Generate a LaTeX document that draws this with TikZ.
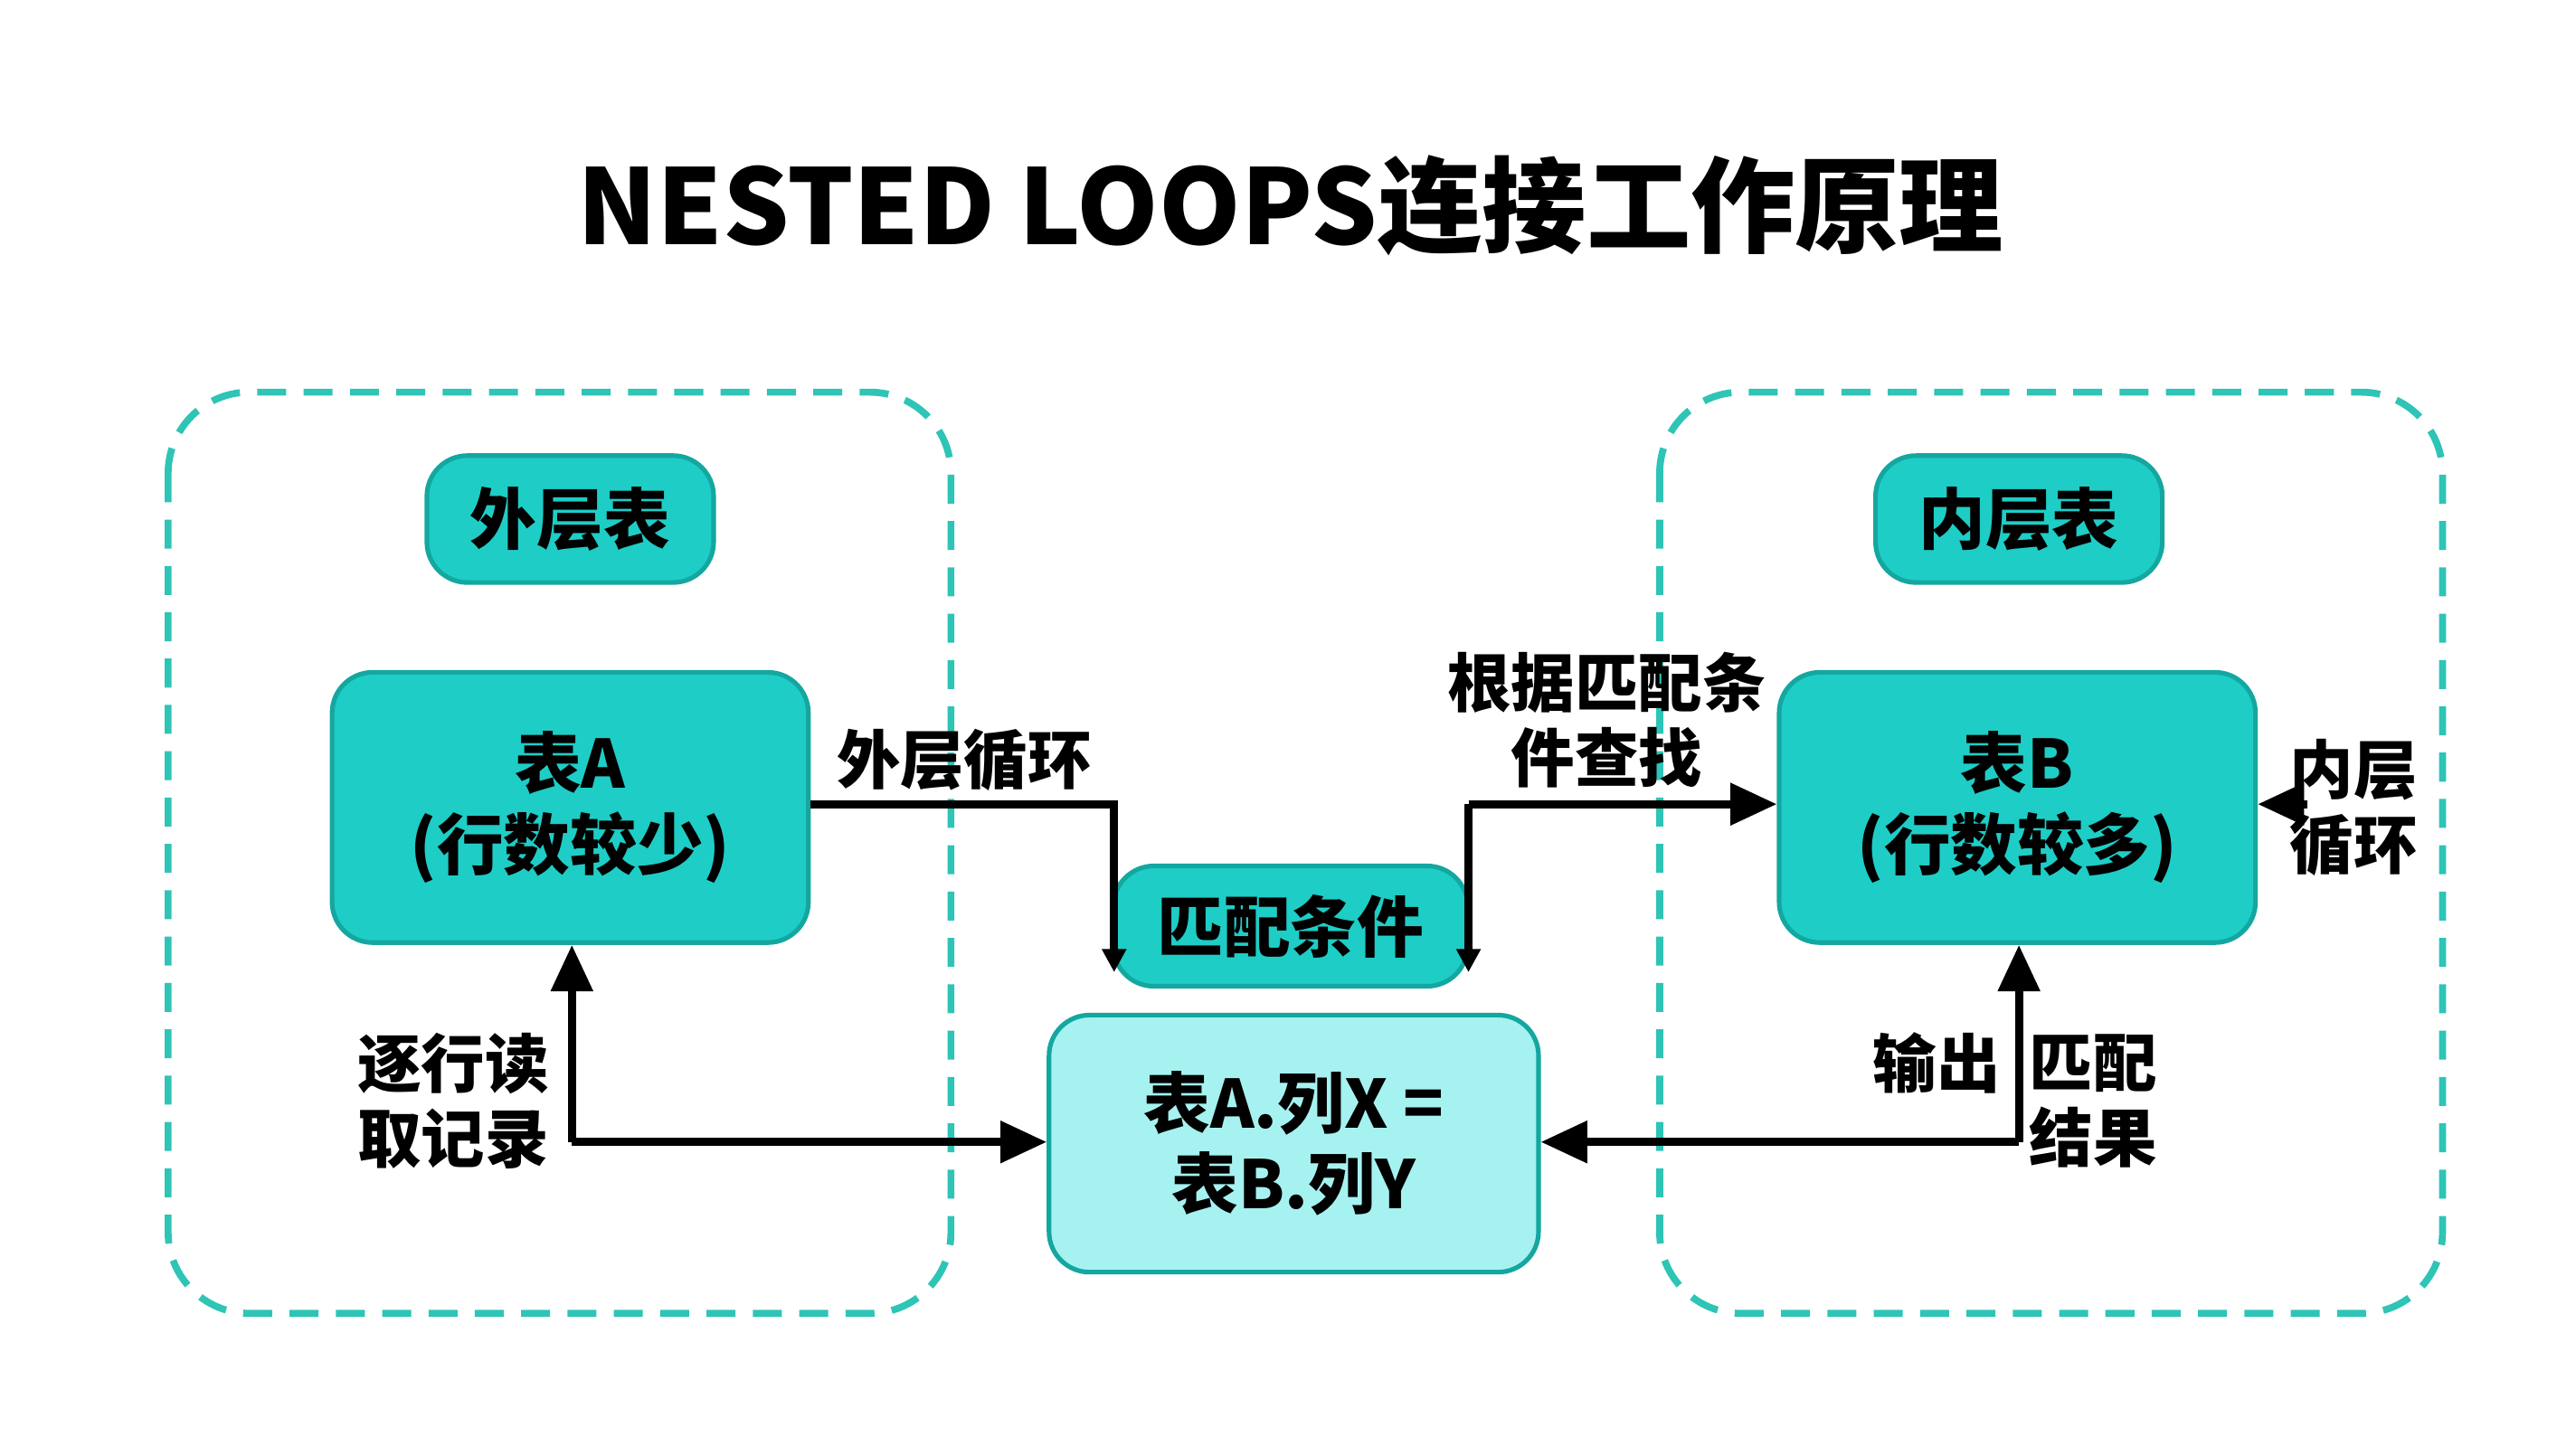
\documentclass[tikz,border=0pt]{standalone}
\usepackage{fontspec}
\setmainfont{Noto Sans CJK SC}
\usetikzlibrary{arrows.meta}
\definecolor{tealline}{HTML}{2EC4B6}
\definecolor{tealfill}{HTML}{1ECDC6}
\definecolor{tealdark}{HTML}{14A7A0}
\definecolor{lightfill}{HTML}{A6F2F0}
\tikzset{
  grp/.style = {draw=tealline, very thick, dashed, dash pattern=on 5pt off 3pt, rounded corners=14pt},
  tbl/.style = {draw=tealdark, thick, fill=tealfill, rounded corners=7pt, font=\fontsize{11.5}{14}\selectfont\bfseries, align=center},
  lbl/.style = {font=\fontsize{11}{13}\selectfont\bfseries, align=center},
  flow/.style = {line width=1.4pt, -{Triangle[length=8pt,width=7pt]}},
  tip/.style = {line width=1.4pt, -{Triangle[length=4pt,width=4pt]}}
}
\begin{document}
\begin{tikzpicture}[x=0.1mm, y=-0.1mm]
  \useasboundingbox (0,0) rectangle (1563,878);
  \node[font=\fontsize{18}{20}\selectfont\bfseries] (title) at (783,125) {NESTED LOOPS连接工作原理};
  % groups
  \draw[grp] (102,238) rectangle (577,797);
  \draw[grp] (1007,238) rectangle (1482,797);
  % tables
  \node[tbl, minimum width=174*0.1mm, minimum height=77*0.1mm] (outer) at (346,315) {外层表};
  \node[tbl, minimum width=174*0.1mm, minimum height=77*0.1mm] (inner) at (1225,315) {内层表};
  \node[tbl, minimum width=289*0.1mm, minimum height=164*0.1mm] (tA) at (346,490) {表A\\(行数较少)};
  \node[tbl, minimum width=289*0.1mm, minimum height=164*0.1mm] (tB) at (1224,490) {表B\\(行数较多)};
  \node[tbl, minimum width=215*0.1mm, minimum height=73*0.1mm] (cond) at (783,562) {匹配条件};
  \node[tbl, fill=lightfill, minimum width=297*0.1mm, minimum height=156*0.1mm] (eq) at (785,694) {表A.列X =\\表B.列Y};
  % connectors
  \coordinate (c1) at (676,488);
  \coordinate (c2) at (891,488);
  \coordinate (c3) at (347,693);
  \coordinate (c4) at (1225,693);
  \coordinate (c5) at (1400,488);
  \draw[tip] (tA.east |- c1) -- (c1) -- (676,590);
  \draw[flow] (c2) -- (tB.west |- c2);
  \draw[tip] (c2) -- (891,590);
  \draw[flow] (c5) -- (tB.east |- c5);
  \draw[flow] (c3) -- (tA.south -| c3);
  \draw[flow] (c3) -- (eq.west |- c3);
  \draw[flow] (c4) -- (tB.south -| c4);
  \draw[flow] (c4) -- (eq.east |- c4);
  % labels
  \node[lbl] (l1) at (585,461) {外层循环};
  \node[lbl] (l2) at (975,437) {根据匹配条\\件查找};
  \node[lbl] (l3) at (1428,490) {内层\\循环};
  \node[lbl] (l4) at (275,668) {逐行读\\取记录};
  \node[lbl] (l5) at (1175,645) {输出};
  \node[lbl] (l6) at (1270,668) {匹配\\结果};
\end{tikzpicture}
\end{document}
